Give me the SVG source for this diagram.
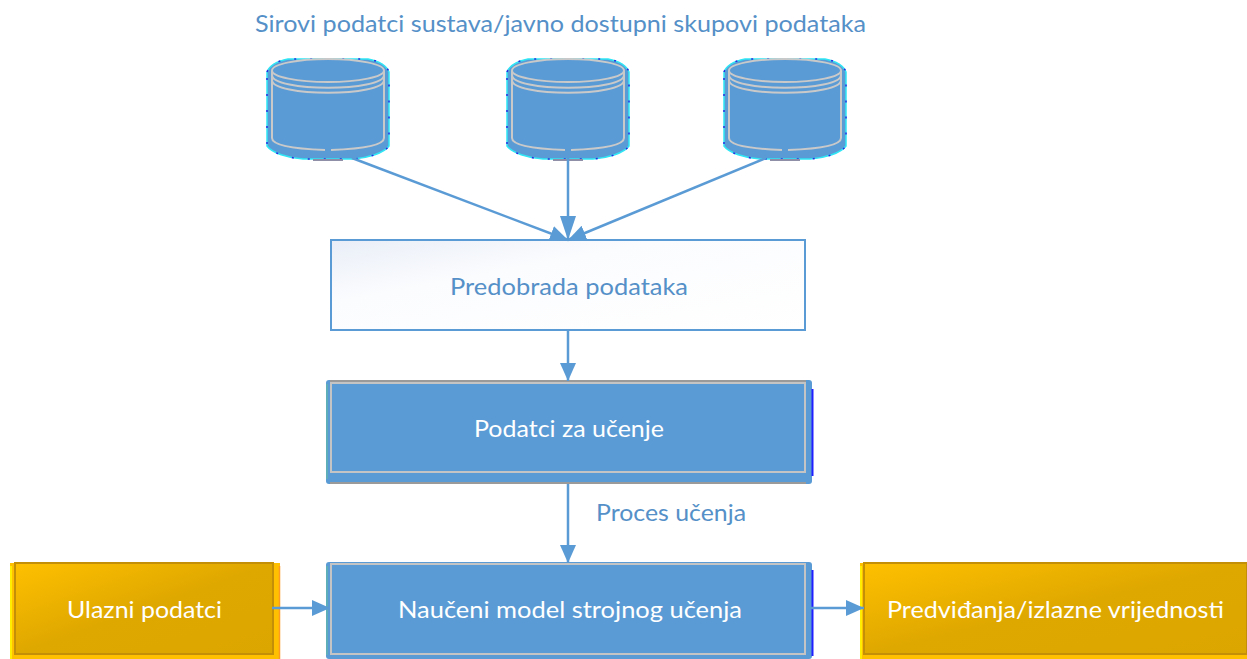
<svg xmlns="http://www.w3.org/2000/svg" width="1247" height="659" viewBox="0 0 1247 659">
<style>
text{font-family:"Lato","Carlito","Liberation Sans",sans-serif;font-size:24px;text-anchor:start}
.w{fill:#ffffff}.b{fill:#5590c8}
.blue{fill:#5b9bd5}
.inner{fill:#5b9bd5;stroke:#c4c4c4;stroke-width:2}
.edge{fill:none;stroke:#5b9bd5;stroke-width:2.500;marker-end:url(#ah)}
.tall{fill:none;stroke:#5b9bd5;stroke-width:2.500;marker-end:url(#at)}
.cy{fill:none;stroke:#c9c9c9;stroke-width:2}
.gold{fill:url(#g);stroke:#c48f08;stroke-width:2}
</style>
<defs>
<marker id="ah" markerUnits="userSpaceOnUse" markerWidth="20" markerHeight="18" refX="18" refY="9" orient="auto"><path d="M0 1L18 9L0 17Z" fill="#5b9bd5"/></marker>
<marker id="at" markerUnits="userSpaceOnUse" markerWidth="26" markerHeight="18" refX="24" refY="9" orient="auto"><path d="M0 1L24 9L0 17Z" fill="#5b9bd5"/></marker>
<linearGradient id="g" x1="0" y1="0" x2="1" y2="1"><stop offset="0" stop-color="#ffc000"/><stop offset="0.5" stop-color="#dfa800"/><stop offset="1" stop-color="#dca600"/></linearGradient>
<linearGradient id="wg" x1="0" y1="0" x2="1" y2="1"><stop offset="0" stop-color="#e9eef7"/><stop offset="0.35" stop-color="#fbfcfe"/><stop offset="1" stop-color="#ffffff"/></linearGradient>
<path id="shell" d="M-61 14C-58 6 -50 3 -40 1L40 1C50 3 58 6 61 14V88C56 95 40 100 25 101L-25 101C-40 100 -56 95 -61 88Z"/>
<g id="cyl">
<use href="#shell" class="blue" stroke="#2fe6f5" stroke-width="1.500"/>
<use href="#shell" fill="none" stroke="#2a2ae0" stroke-width="1.500" stroke-dasharray="2 14"/>
<path d="M-15 102H15" stroke="#8f8fa8" stroke-width="2"/>
<path d="M-56 13V80C-56 88 -30 91 -3 92M3 92C30 91 56 88 56 80V13" class="cy"/>
<ellipse cx="0" cy="12.500" rx="56" ry="11.500" class="cy"/>
<path d="M-56 17C-56 34 56 34 56 17M-56 22C-56 39 56 39 56 22" class="cy"/>
</g>
</defs>
<rect width="1247" height="659" fill="#ffffff"/>
<text id="title" x="255" y="32" class="b" textLength="611" lengthAdjust="spacingAndGlyphs">Sirovi podatci sustava/javno dostupni skupovi podataka</text>
<g id="cyl1"><use href="#cyl" x="328" y="58"/></g>
<g id="cyl2"><use href="#cyl" x="568" y="58"/></g>
<g id="cyl3"><use href="#cyl" x="785" y="58"/></g>
<g id="predobrada"><rect x="331" y="240" width="474" height="90" fill="url(#wg)" stroke="#5b9bd5" stroke-width="2"/>
<text x="450" y="295" class="b" textLength="238" lengthAdjust="spacingAndGlyphs">Predobrada podataka</text></g>
<g id="podatci">
<rect x="326" y="380" width="486" height="104" rx="3" class="blue"/>
<path d="M327 384V479" stroke="#5fb5b0" stroke-width="1.500" fill="none"/>
<path d="M812.500 389V476" stroke="#1f1fff" stroke-width="2" fill="none"/>
<path d="M330 381H806M330 483H806" stroke="#9a9a9a" stroke-width="2" fill="none"/>
<rect x="331" y="383" width="474" height="89" class="inner"/>
<text x="474" y="437" class="w" textLength="190" lengthAdjust="spacingAndGlyphs">Podatci za učenje</text></g>
<text id="proces" x="596" y="521" class="b" textLength="150" lengthAdjust="spacingAndGlyphs">Proces učenja</text>
<g id="model">
<rect x="326" y="562" width="486" height="97" rx="3" class="blue"/>
<path d="M327 566V655" stroke="#5fb5b0" stroke-width="1.500" fill="none"/>
<path d="M812.500 570V656" stroke="#1f1fff" stroke-width="2" fill="none"/>
<rect x="331" y="564" width="474" height="90" class="inner"/>
<text x="398" y="618" class="w" textLength="344" lengthAdjust="spacingAndGlyphs">Naučeni model strojnog učenja</text></g>
<g id="ulazni">
<rect x="10" y="563" width="270" height="96" fill="#ffc000"/>
<path d="M11 566V659" stroke="#ffee00" stroke-width="2"/><path d="M279.500 566V659" stroke="#ff9a20" stroke-width="1.500"/>
<rect x="15" y="563" width="258" height="91" class="gold"/>
<text x="67" y="618" class="w" textLength="155" lengthAdjust="spacingAndGlyphs">Ulazni podatci</text></g>
<g id="predvidanja">
<rect x="860" y="563" width="387" height="96" fill="#ffc000"/>
<path d="M861 566V659" stroke="#ffee00" stroke-width="2"/>
<rect x="864" y="563" width="383" height="91" class="gold"/>
<text x="887" y="618" class="w" textLength="337" lengthAdjust="spacingAndGlyphs">Predviđanja/izlazne vrijednosti</text></g>
<g id="connectors">
<path d="M352 158L568 240" class="edge"/>
<path d="M568 150V240" class="tall"/>
<path d="M766 158L568 240" class="edge"/>
<path d="M568 331V381" class="edge"/>
<path d="M568 484V563" class="edge"/>
<path d="M272 608H330" class="edge"/>
<path d="M806 608H864" class="edge"/>
</g>
</svg>
